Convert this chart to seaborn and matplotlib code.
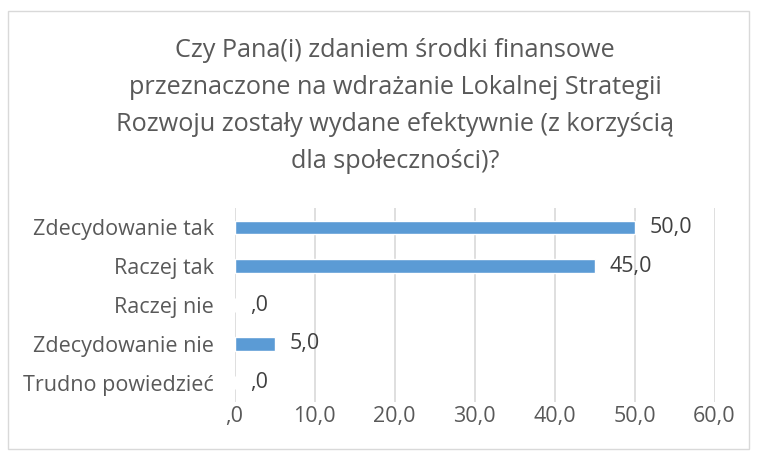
import matplotlib
matplotlib.use("Agg")
from matplotlib import pyplot as plt
from matplotlib.patches import Rectangle
import pandas as pd
import seaborn as sns

categories = ["Zdecydowanie tak", "Raczej tak", "Raczej nie", "Zdecydowanie nie", "Trudno powiedzieć"]
values = [50.0, 45.0, 0.0, 5.0, 0.0]
x_ticks = [0, 10, 20, 30, 40, 50, 60]
title = ("Czy Pana(i) zdaniem środki finansowe\n"
         "przeznaczone na wdrażanie Lokalnej Strategii\n"
         "Rozwoju zostały wydane efektywnie (z korzyścią\n"
         "dla społeczności)?")

def fmt(v):
    # Excel-like format: 0 -> ",0", 45 -> "45,0"
    s = "%.1f" % v
    if s.startswith("0"):
        s = s[1:]
    return s.replace(".", ",")

df = pd.DataFrame({"cat": categories, "val": values})

sns.set_theme(style="white")
plt.rcParams["font.family"] = ["Open Sans", "DejaVu Sans"]

text_col = "#595959"
grid_col = "#D9D9D9"

fig = plt.figure(figsize=(7.57, 4.57), dpi=100)
ax = fig.add_axes([234.5 / 757, 1 - 402 / 457, 480 / 757, 194 / 457])

sns.barplot(data=df, x="val", y="cat", color="#5B9BD5", width=0.35,
            saturation=1, ax=ax, zorder=3)

ax.set_xlim(0, 60)
ax.set_xticks(x_ticks)
ax.set_xticklabels([fmt(t) for t in x_ticks], color=text_col, fontsize=15.5)
ax.tick_params(axis="y", labelsize=15.5, labelcolor=text_col, length=0, pad=15)
ax.tick_params(axis="x", length=0, pad=3)
ax.set_xlabel("")
ax.set_ylabel("")
ax.grid(axis="x", color=grid_col, linewidth=1.2, zorder=0)
for sp in ax.spines.values():
    sp.set_visible(False)

for i, v in enumerate(values):
    ax.annotate(fmt(v), xy=(v, i), xytext=(11, 0), textcoords="offset points",
                va="center", ha="left", fontsize=15.5, color="#404040")

fig.text(395 / 757, 1 - 106 / 457, title, ha="center", va="center",
         fontsize=18.2, color=text_col, linespacing=1.62)

fig.patches.append(Rectangle((8 / 757, 1 - 449 / 457), 741 / 757, 438 / 457,
                             transform=fig.transFigure, fill=False,
                             edgecolor=grid_col, linewidth=1))

fig.savefig("out.png", dpi=100, facecolor="white")
